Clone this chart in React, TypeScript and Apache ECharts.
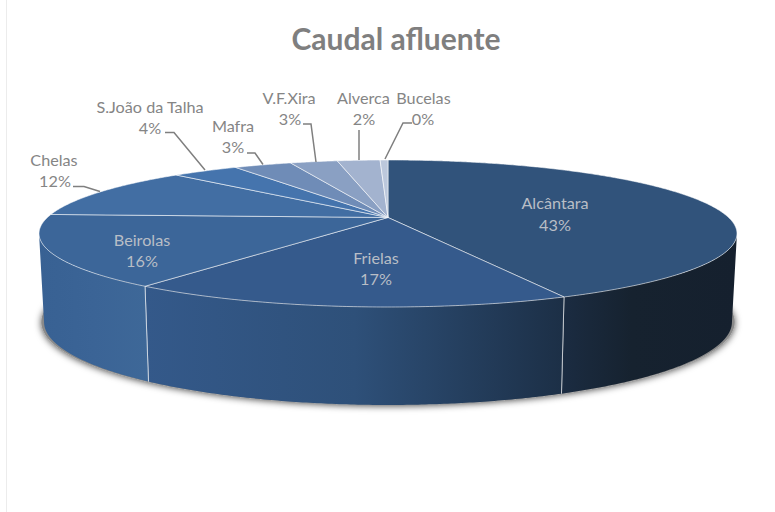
import React, { useEffect, useRef } from "react";
import * as echarts from "echarts";

const titleText = "Caudal afluente";
const categories = ["Alcântara", "Frielas", "Beirolas", "Chelas", "S.João da Talha", "Mafra", "V.F.Xira", "Alverca", "Bucelas"];
const flows = [43.2, 16.8, 15.7, 11.6, 3.8, 3.3, 2.7, 2.45, 0.45];

const topColors = ["#31537b", "#355a8c", "#3c6699", "#426ea3", "#4574ad", "#6f8cb7", "#8aa0c3", "#a3b3cf", "#bcc8dc"];
// side gradients, left to right
const sideStops = [
  ["#1b2c42", "#16222f", "#15202e"],
  ["#34598a", "#2e5079", "#1c2f46"],
  ["#386193", "#3b6496", "#3e6898"],
];
// label centres: [x, nameY, percentY, valueX, insideFlag]
const labelLayout = [
  [555, 203, 225, 555, 1], [376, 258, 279, 376, 1], [142, 240, 261, 142, 1],
  [54, 160, 181, 55, 0], [150, 107, 128, 150, 0], [233, 126, 147, 233, 0],
  [289, 98, 119, 290, 0], [363.5, 98, 119, 364, 0], [423.5, 98, 119, 423, 0],
];
const leaders = [
  null, null, null,
  [[73, 186.5], [84, 186.5], [100, 191.5]],
  [[165, 132.5], [174, 132.5], [205, 170]],
  [[247, 153], [255, 153], [263, 164.5]],
  [[303, 124], [311, 124], [316, 162]],
  [[359, 130], [359, 160]],
  [[412, 123], [403, 123], [385, 159]],
];

const FONT = "Lato";
const CX = 388;
const PERSP = -0.2177;
const TOP = { r: 340.6, b: 217.5, a: 22.67 };
const BOTTOM = { r: 335.7, b: 303.9, a: 12.9 };
const EDGE_DEG = (Math.acos(PERSP) * 180) / Math.PI; // silhouette angle

const total = flows.reduce((s, v) => s + v, 0);
const starts: number[] = [];
flows.reduce((s, v, i) => ((starts[i] = s), s + v), 0);

function project(deg: number, plane: { r: number; b: number; a: number }, grow = 1) {
  const t = (deg * Math.PI) / 180;
  const u = Math.sin(t);
  const v = -Math.cos(t);
  const d = 1 + PERSP * v;
  return [CX + (plane.r * grow * u) / d, (plane.b + plane.a * v) / d];
}
function arc(a0: number, a1: number, plane: any, grow = 1) {
  const pts: number[][] = [];
  const n = Math.max(2, Math.ceil(Math.abs(a1 - a0) / 0.5));
  for (let i = 0; i <= n; i++) pts.push(project(a0 + ((a1 - a0) * i) / n, plane, grow));
  return pts;
}
const toPath = (pts: number[][], close = true) =>
  "M" + pts.map((p) => p[0].toFixed(2) + " " + p[1].toFixed(2)).join("L") + (close ? "Z" : "");

export default function App() {
  const ref = useRef<HTMLDivElement>(null);
  useEffect(() => {
    const chart = echarts.init(ref.current!, null, { renderer: "svg" });
    const data = categories.map((name, i) => ({ name, value: [flows[i], starts[i]] }));
    chart.setOption({
      animation: false,
      backgroundColor: "#ffffff",
      title: {
        text: titleText,
        left: 391,
        top: 18,
        textAlign: "center",
        textStyle: { fontFamily: FONT, fontSize: 30, fontWeight: "bold", color: "#7f7f7f" },
      },
      graphic: [
        { type: "line", shape: { x1: 6.5, y1: 0, x2: 6.5, y2: 512 }, style: { stroke: "#ececec", lineWidth: 1 } },
      ],
      series: [
        {
          type: "custom",
          coordinateSystem: "none",
          silent: true,
          data: [0],
          renderItem: () => ({
            type: "path",
            shape: { pathData: toPath(arc(0, 360, BOTTOM, 1.008)) },
            style: { fill: "#8a8a8a", shadowBlur: 7, shadowColor: "rgba(0,0,0,0.7)", shadowOffsetY: 1 },
          }),
        },
        {
          type: "custom",
          coordinateSystem: "none",
          silent: true,
          data,
          renderItem: (params: any, api: any) => {
            const i = params.dataIndex;
            const a0 = (api.value(1) / total) * 360;
            const a1 = ((api.value(1) + api.value(0)) / total) * 360;
            const children: any[] = [];
            const s0 = Math.max(a0, EDGE_DEG);
            const s1 = Math.min(a1, 360 - EDGE_DEG);
            if (s1 > s0) {
              const stops = sideStops[i];
              children.push({
                type: "path",
                shape: { pathData: toPath([...arc(s0, s1, TOP), ...arc(s1, s0, BOTTOM)]) },
                style: {
                  fill: new echarts.graphic.LinearGradient(0, 0, 1, 0, [
                    { offset: 0, color: stops[0] },
                    { offset: i === 0 ? 0.4 : 0.5, color: stops[1] },
                    { offset: 1, color: stops[2] },
                  ]),
                },
              });
              [a0, a1].forEach((e) => {
                if (e > EDGE_DEG && e < 360 - EDGE_DEG) {
                  const p = project(e, TOP);
                  const q = project(e, BOTTOM);
                  children.push({
                    type: "line",
                    shape: { x1: p[0], y1: p[1], x2: q[0], y2: q[1] },
                    style: { stroke: "rgba(255,255,255,0.6)", lineWidth: 1 },
                  });
                }
              });
            }
            children.push({
              type: "path",
              shape: { pathData: toPath([[CX, TOP.b], ...arc(a0, a1, TOP)]) },
              style: { fill: topColors[i], stroke: "rgba(255,255,255,0.55)", lineWidth: 1, lineJoin: "round" },
            });
            return { type: "group", children };
          },
        },
        {
          type: "custom",
          coordinateSystem: "none",
          silent: true,
          z: 5,
          data,
          renderItem: (params: any, api: any) => {
            const i = params.dataIndex;
            const [x, y1, y2, x2, inside] = labelLayout[i];
            const fill = inside ? "#b9bec6" : "#858585";
            const pct = Math.round((api.value(0) / total) * 100) + "%";
            const font = { fontFamily: FONT, fontSize: 16.2, fill, align: "center", verticalAlign: "middle" };
            const children: any[] = [
              { type: "text", style: { ...font, text: categories[i], x, y: y1 - 0.5 } },
              { type: "text", style: { ...font, text: pct, x: x2, y: y2 - 0.5 } },
            ];
            const l = leaders[i];
            if (l) {
              children.push({
                type: "polyline",
                shape: { points: l },
                style: { stroke: "#7f7f7f", lineWidth: 1.5, fill: "none" },
              });
            }
            return { type: "group", children };
          },
        },
      ],
    });
    return () => chart.dispose();
  }, []);
  return <div ref={ref} style={{ position: "fixed", left: 0, top: 0, width: 775, height: 512 }} />;
}
